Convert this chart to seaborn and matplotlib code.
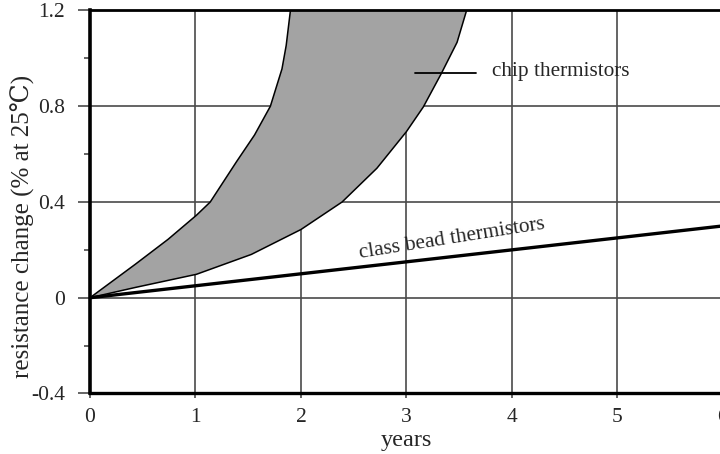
import numpy as np
import pandas as pd
import matplotlib
matplotlib.use("Agg")
import matplotlib.pyplot as plt
from matplotlib.ticker import FixedLocator
import seaborn as sns

# Upper (fast drift) boundary of the chip thermistor band
chip_upper_years = [0.0, 0.43, 0.74, 1.01, 1.14, 1.39, 1.56, 1.71, 1.82, 1.86, 1.90]
chip_upper_change = [0.0, 0.14, 0.244, 0.345, 0.40, 0.569, 0.68, 0.80, 0.956, 1.054, 1.20]

# Lower (slow drift) boundary of the chip thermistor band
chip_lower_years = [0.0, 0.43, 1.01, 1.53, 2.0, 2.39, 2.72, 3.0, 3.16, 3.33, 3.48, 3.57]
chip_lower_change = [0.0, 0.043, 0.098, 0.181, 0.285, 0.40, 0.541, 0.694, 0.797, 0.936, 1.067, 1.20]

# Glass bead thermistors drift linearly
bead_years = [0.0, 6.0]
bead_change = [0.0, 0.30]

x_ticks = [0, 1, 2, 3, 4, 5, 6]
y_ticks = [-0.4, 0, 0.4, 0.8, 1.2]
y_tick_labels = ["-0.4", "0", "0.4", "0.8", "1.2"]

sns.set_theme(style="white")
plt.rcParams["font.family"] = ["Liberation Serif", "DejaVu Serif", "DejaVu Sans"]

fig = plt.figure(figsize=(7.2, 4.54), dpi=100)
ax = fig.add_axes([0.125, 0.1333, 0.879, 0.8436])

upper = pd.DataFrame({"years": chip_upper_years, "change": chip_upper_change})
lower = pd.DataFrame({"years": chip_lower_years, "change": chip_lower_change})
bead = pd.DataFrame({"years": bead_years, "change": bead_change})

# shaded band between the two chip curves
band_x = np.concatenate([upper["years"].values, lower["years"].values[::-1]])
band_y = np.concatenate([upper["change"].values, lower["change"].values[::-1]])
ax.fill(band_x, band_y, color="#a3a3a3", lw=0, zorder=1)

line_kw = dict(x="years", y="change", color="black", sort=False,
               estimator=None, ax=ax)
sns.lineplot(data=upper, lw=1.1, zorder=3, solid_joinstyle="round", **line_kw)
sns.lineplot(data=lower, lw=1.1, zorder=3, solid_joinstyle="round", **line_kw)
sns.lineplot(data=bead, lw=2.4, zorder=4, **line_kw)

ax.set_xlim(0, 6)
ax.set_ylim(-0.4, 1.2)
ax.xaxis.set_major_locator(FixedLocator(x_ticks))
ax.set_yticks(y_ticks)
ax.set_yticklabels(y_tick_labels)
ax.yaxis.set_minor_locator(FixedLocator([-0.2, 0.2, 0.6, 1.0]))

ax.grid(True, which="major", color="#4a4a4a", lw=1.2)
for line in ax.get_xgridlines() + ax.get_ygridlines():
    line.set_zorder(2)

for side in ["left", "bottom", "top"]:
    ax.spines[side].set_visible(True)
    ax.spines[side].set_color("black")
    ax.spines[side].set_zorder(5)
ax.spines["left"].set_linewidth(2.6)
ax.spines["bottom"].set_linewidth(2.4)
ax.spines["top"].set_linewidth(2.0)
ax.spines["right"].set_visible(False)

ax.tick_params(axis="y", which="major", direction="out", length=9, width=1.2,
               color="#4a4a4a", left=True, labelsize=15.5, pad=9)
ax.tick_params(axis="y", which="minor", direction="out", length=4, width=1.2,
               color="#4a4a4a", left=True)
ax.tick_params(axis="x", which="major", direction="out", length=3.5, width=1.2,
               color="#4a4a4a", bottom=True, labelsize=15.5, pad=7)

ax.set_xlabel("years", fontsize=17.5)
ax.set_ylabel("resistance change (% at 25℃)", fontsize=18)
ax.xaxis.set_label_coords(0.5, -0.095)
ax.yaxis.set_label_coords(-0.087, 0.437)

# annotations
ax.plot([3.08, 3.66], [0.94, 0.94], color="black", lw=1.3, zorder=6)
ax.text(3.81, 0.926, "chip thermistors", fontsize=15.3, ha="left",
        va="baseline", zorder=6)
ax.text(3.43, 0.245, "class bead thermistors", fontsize=15.3, ha="center",
        va="center", rotation=9, rotation_mode="anchor", zorder=6)

fig.savefig("out.png", dpi=100)
